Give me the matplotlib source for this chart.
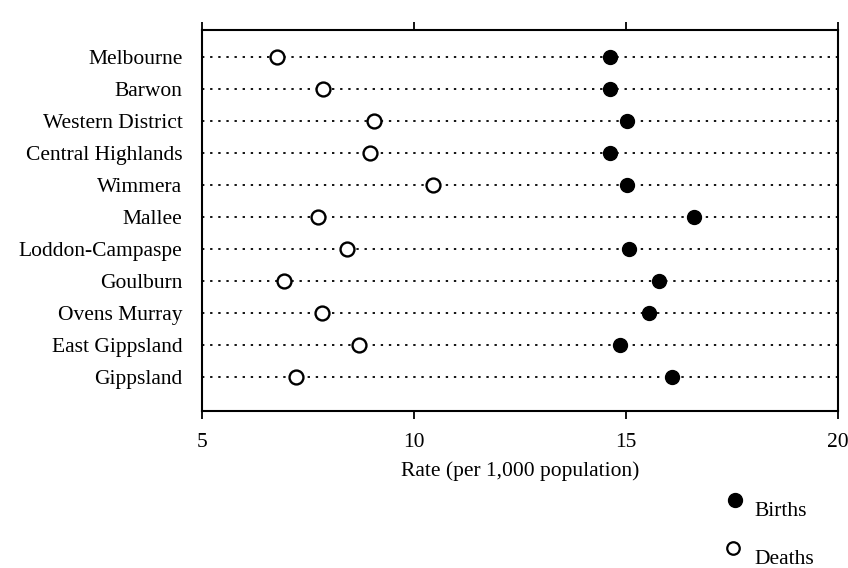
import matplotlib
matplotlib.use("Agg")
import matplotlib.pyplot as plt
from matplotlib.lines import Line2D

regions = ["Melbourne", "Barwon", "Western District", "Central Highlands", "Wimmera",
           "Mallee", "Loddon-Campaspe", "Goulburn", "Ovens Murray", "East Gippsland", "Gippsland"]
births = [14.62, 14.62, 15.02, 14.62, 15.02, 16.61, 15.07, 15.78, 15.54, 14.86, 16.09]
deaths = [6.77, 7.86, 9.07, 8.97, 10.46, 7.74, 8.43, 6.94, 7.84, 8.71, 7.22]
xticks = [5, 10, 15, 20]

plt.rcParams['font.family'] = ['Liberation Serif', 'DejaVu Serif']
FS = 15.5

fig = plt.figure(figsize=(8.48, 5.68), dpi=100)
ax = fig.add_axes([0.238, 0.276, 0.750, 0.671])

ypos = list(range(len(regions)))
for y in ypos:
    ax.axhline(y, color='black', linestyle=(0, (1.3, 3.2)), linewidth=1.3, zorder=1)

ax.plot(deaths, ypos, linestyle='none', marker='o', markersize=10,
        markerfacecolor='white', markeredgecolor='black', markeredgewidth=1.7, zorder=3)
ax.plot(births, ypos, linestyle='none', marker='o', markersize=10,
        markerfacecolor='black', markeredgecolor='black', zorder=3)

ax.set_xlim(5, 20)
ax.set_ylim(len(regions) - 1 + 1.06, -0.84)
ax.set_xticks(xticks)
ax.set_xticklabels([str(t) for t in xticks], fontsize=FS)
ax.set_yticks(ypos)
ax.set_yticklabels(regions, fontsize=FS)
ax.tick_params(axis='y', length=0, pad=14)
ax.tick_params(axis='x', direction='out', length=6, width=1.3, top=True, pad=10)
for s in ax.spines.values():
    s.set_linewidth(1.5)
ax.set_xlabel("Rate (per 1,000 population)", fontsize=FS, labelpad=6)

# legend
fig.add_artist(Line2D([735 / 848], [1 - 500 / 568], transform=fig.transFigure,
                      marker='o', markersize=10, color='black', linestyle='none'))
fig.text(754 / 848, 1 - 512 / 568, "Births", fontsize=FS, va='center', ha='left')
fig.add_artist(Line2D([733 / 848], [1 - 548 / 568], transform=fig.transFigure,
                      marker='o', markersize=9, markerfacecolor='white',
                      markeredgecolor='black', markeredgewidth=1.6, linestyle='none'))
fig.text(754 / 848, 1 - 559 / 568, "Deaths", fontsize=FS, va='center', ha='left')

fig.savefig("out.png", dpi=100)
